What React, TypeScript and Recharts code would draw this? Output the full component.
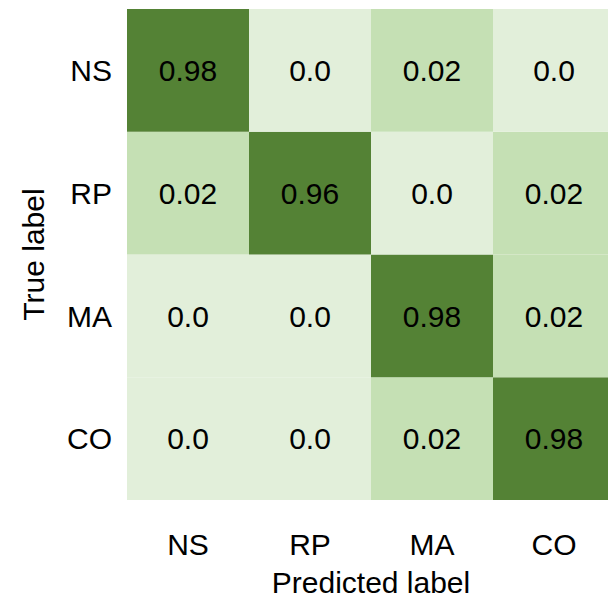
import React from 'react';
import { BarChart, Bar, XAxis, YAxis, Cell, LabelList, Label } from 'recharts';

// confusion matrix, rows = true label (top to bottom), columns = predicted label
const labels = ['NS', 'RP', 'MA', 'CO'];
const rowNS = [0.98, 0.0, 0.02, 0.0];
const rowRP = [0.02, 0.96, 0.0, 0.02];
const rowMA = [0.0, 0.0, 0.98, 0.02];
const rowCO = [0.0, 0.0, 0.02, 0.98];
const rowTicks = [3.5, 2.5, 1.5, 0.5];

const matrix: Record<string, number[]> = { NS: rowNS, RP: rowRP, MA: rowMA, CO: rowCO };

const FONT = '"Liberation Sans", Arial, Helvetica, sans-serif';

// one entry per predicted column, each true-label row is a unit-high stacked segment
const data = labels.map((pred, j) => {
  const entry: Record<string, any> = { pred };
  labels.forEach((row) => {
    entry[row] = 1;
    entry[row + '_v'] = matrix[row][j];
  });
  return entry;
});

const colorFor = (v: number) => {
  if (v >= 0.5) return '#548235';
  if (v > 0) return '#c5e0b4';
  return '#e2efda';
};

const fmt = (v: any) => (Number(v) === 0 ? '0.0' : String(v));

// bottom of the stack first
const stackOrder = [...labels].reverse();

export default function App() {
  return (
    <div
      style={{
        position: 'fixed',
        left: 0,
        top: 0,
        width: 608,
        height: 606,
        overflow: 'hidden',
        background: '#fff',
      }}
    >
      <BarChart
        width={620}
        height={606}
        data={data}
        barCategoryGap={0}
        barGap={0}
        margin={{ top: 9, right: 5, bottom: 46, left: 67 }}
      >
        <XAxis
          dataKey="pred"
          type="category"
          height={60}
          axisLine={false}
          tickLine={false}
          tickSize={0}
          tickMargin={34}
          tick={{ fill: '#000', fontSize: 30, fontFamily: FONT }}
        >
          <Label
            value="Predicted label"
            position="bottom"
            offset={12}
            fill="#000"
            fontSize={30}
            fontFamily={FONT}
          />
        </XAxis>
        <YAxis
          type="number"
          domain={[0, 4]}
          ticks={rowTicks}
          tickFormatter={(v: number) => labels[rowTicks.indexOf(v)]}
          width={60}
          axisLine={false}
          tickLine={false}
          tickSize={0}
          tickMargin={15}
          tick={{ fill: '#000', fontSize: 30, fontFamily: FONT }}
        >
          <Label
            content={({ viewBox }: any) => {
              const cx = viewBox.x - 34;
              const cy = viewBox.y + viewBox.height / 2;
              return (
                <text
                  x={cx}
                  y={cy}
                  transform={`rotate(-90, ${cx}, ${cy})`}
                  textAnchor="middle"
                  dominantBaseline="central"
                  fill="#000"
                  fontSize={30}
                  fontFamily={FONT}
                >
                  True label
                </text>
              );
            }}
          />
        </YAxis>
        {stackOrder.map((row) => (
          <Bar key={row} dataKey={row} stackId="m" isAnimationActive={false}>
            {data.map((d, j) => (
              <Cell key={j} fill={colorFor(d[row + '_v'])} />
            ))}
            <LabelList
              dataKey={row + '_v'}
              position="center"
              formatter={fmt}
              fill="#000"
              fontSize={30}
              fontFamily={FONT}
            />
          </Bar>
        ))}
      </BarChart>
    </div>
  );
}
